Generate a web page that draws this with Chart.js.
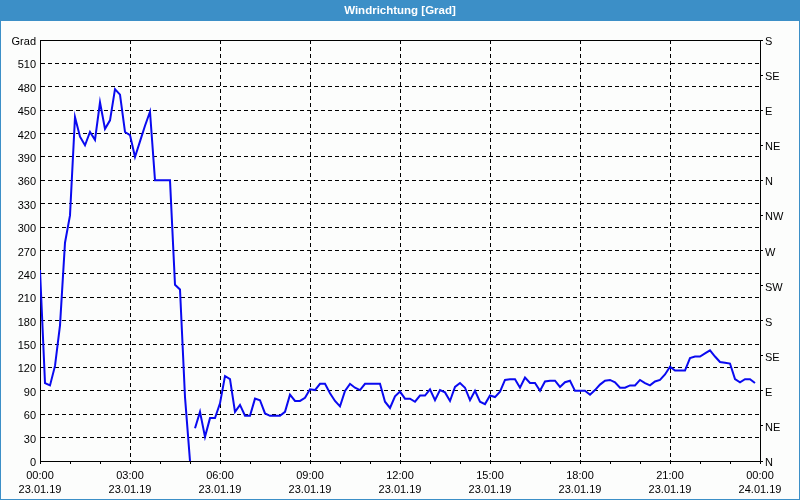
<!DOCTYPE html>
<html>
<head>
<meta charset="utf-8">
<script src="https://cdn.jsdelivr.net/npm/chart.js@4/dist/chart.umd.min.js"></script>
<style>
  html, body { margin: 0; padding: 0; background: #fcfdfc; }
  #wrap { width: 800px; height: 500px; position: relative; }
</style>
</head>
<body>
<div id="wrap"><canvas id="c" width="800" height="500"></canvas></div>
<script>
// ---- data (minutes since 23.01.19 00:00, 10-minute samples) ----
const title = 'Windrichtung [Grad]';
const sampleMinutes = 10;
const seg1Start = 0;     // first segment start (min)
const seg2Start = 310;   // second segment start (min), after wrap-around
const seg1Values = [245, 100, 97, 122, 174, 280, 315, 441, 416, 405, 422, 412, 460, 426, 437,
  477, 470, 422, 418, 390, 410, 430, 448, 360, 360, 360, 360, 226, 220, 82, 0];
const seg2Values = [42, 63, 31, 55, 55, 74, 109, 105, 63, 72, 58, 58, 80, 78, 61, 58, 58, 58,
  63, 85, 77, 77, 81, 92, 91, 99, 99, 87, 77, 70, 90, 99, 94, 91, 99, 99, 99, 99,
  76, 68, 83, 89, 80, 80, 76, 84, 84, 92, 78, 91, 88, 77, 95, 100, 94, 78, 90, 76,
  73, 84, 82, 89, 104, 105, 105, 94, 107, 100, 100, 90, 102, 103, 103, 95, 101, 103,
  90, 90, 90, 85, 91, 98, 103, 104, 101, 94, 94, 97, 97, 104, 100, 97, 102, 104,
  111, 121, 116, 116, 116, 132, 134, 134, 138, 142, 134, 127, 126, 125, 105, 101,
  105, 105, 100];
const xTickTimes = ['00:00', '03:00', '06:00', '09:00', '12:00', '15:00', '18:00', '21:00', '00:00'];
const xTickDates = ['23.01.19', '23.01.19', '23.01.19', '23.01.19', '23.01.19', '23.01.19', '23.01.19', '23.01.19', '24.01.19'];
const compassLabels = ['N', 'NE', 'E', 'SE', 'S', 'SW', 'W', 'NW', 'N', 'NE', 'E', 'SE', 'S'];
const yUnitLabel = 'Grad';

const toPoints = (start, vals) => vals.map((v, i) => ({ x: start + i * sampleMinutes, y: v }));

const FONT = "'Liberation Sans', Arial, sans-serif";
const BLUE_BAR = '#3c8fc7';
const LINE_BLUE = '#0a0af0';

const frame = {
  id: 'frame',
  beforeDraw(chart) {
    const ctx = chart.ctx;
    ctx.save();
    ctx.fillStyle = '#fcfdfc';
    ctx.fillRect(0, 0, chart.width, chart.height);
    ctx.fillStyle = BLUE_BAR;
    ctx.fillRect(0, 0, chart.width, 21);
    ctx.strokeStyle = BLUE_BAR;
    ctx.lineWidth = 1;
    ctx.strokeRect(0.5, 0.5, chart.width - 1, chart.height - 1);
    ctx.restore();
  },
  afterDraw(chart) {
    const a = chart.chartArea, ctx = chart.ctx;
    ctx.save();
    ctx.strokeStyle = '#000';
    ctx.lineWidth = 1;
    ctx.beginPath();
    ctx.moveTo(a.left, Math.round(a.top) + 0.5);
    ctx.lineTo(a.right, Math.round(a.top) + 0.5);
    ctx.stroke();
    ctx.restore();
  }
};

new Chart(document.getElementById('c'), {
  type: 'line',
  data: {
    datasets: [
      { data: toPoints(seg1Start, seg1Values), yAxisID: 'y', borderColor: LINE_BLUE, borderWidth: 2, pointRadius: 0, tension: 0 },
      { data: toPoints(seg2Start, seg2Values), yAxisID: 'y', borderColor: LINE_BLUE, borderWidth: 2, pointRadius: 0, tension: 0 }
    ]
  },
  options: {
    responsive: false,
    animation: false,
    devicePixelRatio: 1,
    layout: { padding: 0 },
    plugins: {
      legend: { display: false },
      tooltip: { enabled: false },
      title: {
        display: true,
        text: title,
        color: '#ffffff',
        font: { family: FONT, size: 11.5, weight: 'bold', lineHeight: 1.2 },
        padding: { top: 4, bottom: 22.2 }
      }
    },
    scales: {
      x: {
        type: 'linear',
        min: 0, max: 1440,
        afterFit(s) { s.height = 39; },
        ticks: {
          stepSize: 60,
          autoSkip: false,
          maxRotation: 0,
          padding: 4,
          color: '#000',
          font: { family: FONT, size: 11, lineHeight: 1.36 },
          callback(v) {
            if (v % 180 !== 0) return '';
            const i = v / 180;
            return [xTickTimes[i], xTickDates[i]];
          }
        },
        grid: {
          color(ctx) { return (ctx.tick && ctx.tick.value % 180 === 0) ? '#000' : 'rgba(0,0,0,0)'; },
          tickColor: '#000',
          tickLength: 3,
          tickBorderDash: [],
          lineWidth: 1
        },
        border: { display: true, color: '#000', width: 1, dash: [4, 3] }
      },
      y: {
        position: 'left',
        min: 0, max: 540,
        afterFit(s) { s.width = 40; },
        ticks: {
          stepSize: 30,
          padding: 4,
          labelOffset: 2,
          color: '#000',
          font: { family: FONT, size: 11 },
          callback(v) { return v === 540 ? yUnitLabel : String(v); }
        },
        grid: {
          drawTicks: false,
          color: '#000',
          lineWidth: 1
        },
        border: { display: true, color: '#000', width: 1, dash: [4, 3] }
      },
      y2: {
        position: 'right',
        min: 0, max: 540,
        afterFit(s) { s.width = 40; },
        ticks: {
          stepSize: 45,
          padding: 2,
          labelOffset: 2,
          color: '#000',
          font: { family: FONT, size: 11 },
          callback(v) { return compassLabels[Math.round(v / 45)]; }
        },
        grid: {
          drawOnChartArea: false,
          drawTicks: true,
          tickLength: 3,
          tickColor: '#000',
          tickBorderDash: []
        },
        border: { display: true, color: '#000', width: 1 }
      }
    }
  },
  plugins: [frame]
});
</script>
</body>
</html>
